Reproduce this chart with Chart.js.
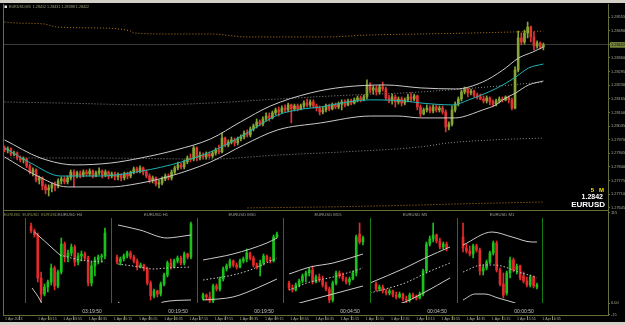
<!DOCTYPE html>
<html>
<head>
<meta charset="utf-8">
<script src="https://cdn.jsdelivr.net/npm/chart.js@4.4.1/dist/chart.umd.min.js"></script>
<style>
  html, body { margin: 0; padding: 0; background: #d4d0c8; }
  #win { position: relative; width: 625px; height: 325px; overflow: hidden; }
  #bg { position: absolute; left: 0; top: 3px; width: 625px; height: 319px; background: #000; }
  canvas { position: absolute; }
  #main { left: 0; top: 0; }
  .mini { top: 208px; }
</style>
</head>
<body>
<div id="win">
  <div id="bg"></div>
  <canvas id="main" width="625" height="325"></canvas>
  <canvas id="h4" class="mini" width="86" height="108" style="left:25px"></canvas>
  <canvas id="h1" class="mini" width="86" height="108" style="left:111px"></canvas>
  <canvas id="m30" class="mini" width="86" height="108" style="left:197px"></canvas>
  <canvas id="m15" class="mini" width="86" height="108" style="left:283px"></canvas>
  <canvas id="m5" class="mini" width="86" height="108" style="left:370px"></canvas>
  <canvas id="m1" class="mini" width="86" height="108" style="left:457px"></canvas>
</div>
<script>
// ---- main EURUSD M5 chart: [open, high, low, close] per bar
const mainBars = [
  [1.27931,1.27940,1.27912,1.27921],[1.27921,1.27936,1.27907,1.27926],[1.27926,1.27931,1.27893,1.27902],[1.27902,1.27916,1.27893,1.27907],
  [1.27907,1.27912,1.27874,1.27883],[1.27883,1.27893,1.27864,1.27874],[1.27874,1.27888,1.27859,1.27878],[1.27878,1.27883,1.27836,1.27845],
  [1.27845,1.27855,1.27807,1.27816],[1.27816,1.27836,1.27797,1.27826],[1.27826,1.27831,1.27769,1.27778],[1.27778,1.27797,1.27759,1.27788],
  [1.27788,1.27793,1.27731,1.27750],[1.27750,1.27759,1.27712,1.27731],[1.27731,1.27755,1.27702,1.27740],[1.27740,1.27764,1.27721,1.27755],
  [1.27755,1.27769,1.27726,1.27750],[1.27750,1.27783,1.27740,1.27774],[1.27774,1.27793,1.27759,1.27783],[1.27783,1.27793,1.27759,1.27769],
  [1.27769,1.27797,1.27759,1.27788],[1.27788,1.27826,1.27778,1.27816],[1.27816,1.27826,1.27745,1.27797],[1.27797,1.27821,1.27788,1.27812],
  [1.27812,1.27821,1.27788,1.27802],[1.27802,1.27826,1.27793,1.27816],[1.27816,1.27826,1.27797,1.27807],[1.27807,1.27831,1.27797,1.27821],
  [1.27821,1.27826,1.27788,1.27797],[1.27797,1.27821,1.27793,1.27812],[1.27812,1.27836,1.27802,1.27821],[1.27821,1.27826,1.27788,1.27802],
  [1.27802,1.27826,1.27793,1.27816],[1.27816,1.27821,1.27783,1.27797],[1.27797,1.27816,1.27788,1.27807],[1.27807,1.27816,1.27778,1.27793],
  [1.27793,1.27812,1.27778,1.27802],[1.27802,1.27807,1.27774,1.27788],[1.27788,1.27816,1.27778,1.27807],[1.27807,1.27816,1.27783,1.27797],
  [1.27797,1.27821,1.27788,1.27816],[1.27816,1.27840,1.27807,1.27831],[1.27831,1.27840,1.27812,1.27821],[1.27821,1.27845,1.27812,1.27836],
  [1.27836,1.27840,1.27802,1.27816],[1.27816,1.27826,1.27788,1.27797],[1.27797,1.27807,1.27764,1.27778],[1.27778,1.27797,1.27764,1.27788],
  [1.27788,1.27793,1.27750,1.27759],[1.27759,1.27778,1.27740,1.27764],[1.27764,1.27793,1.27755,1.27783],[1.27783,1.27807,1.27774,1.27797],
  [1.27797,1.27807,1.27778,1.27788],[1.27788,1.27826,1.27778,1.27816],[1.27816,1.27845,1.27807,1.27836],[1.27836,1.27864,1.27826,1.27850],
  [1.27850,1.27859,1.27831,1.27840],[1.27840,1.27874,1.27831,1.27864],[1.27864,1.27893,1.27855,1.27883],[1.27883,1.27902,1.27864,1.27878],
  [1.27878,1.27940,1.27869,1.27931],[1.27931,1.27936,1.27869,1.27883],[1.27883,1.27912,1.27874,1.27897],[1.27897,1.27907,1.27878,1.27888],
  [1.27888,1.27912,1.27878,1.27902],[1.27902,1.27912,1.27883,1.27893],[1.27893,1.27916,1.27883,1.27907],[1.27907,1.27931,1.27897,1.27921],
  [1.27921,1.27945,1.27902,1.27912],[1.27912,1.28002,1.27907,1.27978],[1.27978,1.27983,1.27936,1.27945],[1.27945,1.27969,1.27936,1.27959],
  [1.27959,1.27983,1.27950,1.27969],[1.27969,1.27978,1.27940,1.27955],[1.27955,1.27983,1.27945,1.27974],[1.27974,1.27993,1.27964,1.27983],
  [1.27983,1.28012,1.27974,1.28002],[1.28002,1.28017,1.27983,1.27993],[1.27993,1.28031,1.27983,1.28021],[1.28021,1.28045,1.28012,1.28036],
  [1.28036,1.28069,1.28026,1.28055],[1.28055,1.28064,1.28036,1.28045],[1.28045,1.28079,1.28036,1.28069],[1.28069,1.28098,1.28059,1.28083],
  [1.28083,1.28098,1.28059,1.28074],[1.28074,1.28107,1.28069,1.28098],[1.28098,1.28121,1.28088,1.28112],[1.28112,1.28126,1.28083,1.28102],
  [1.28102,1.28131,1.28098,1.28121],[1.28121,1.28136,1.28102,1.28112],[1.28112,1.28145,1.28102,1.28136],[1.28136,1.28140,1.28050,1.28117],
  [1.28117,1.28140,1.28107,1.28131],[1.28131,1.28140,1.28107,1.28117],[1.28117,1.28140,1.28112,1.28131],[1.28131,1.28155,1.28121,1.28145],
  [1.28145,1.28164,1.28126,1.28136],[1.28136,1.28160,1.28126,1.28150],[1.28150,1.28160,1.28121,1.28131],[1.28131,1.28140,1.28107,1.28121],
  [1.28121,1.28131,1.28088,1.28102],[1.28102,1.28126,1.28093,1.28112],[1.28112,1.28140,1.28102,1.28131],[1.28131,1.28140,1.28107,1.28117],
  [1.28117,1.28145,1.28112,1.28136],[1.28136,1.28145,1.28117,1.28126],[1.28126,1.28150,1.28117,1.28140],[1.28140,1.28160,1.28112,1.28150],
  [1.28150,1.28160,1.28126,1.28136],[1.28136,1.28164,1.28131,1.28155],[1.28155,1.28164,1.28136,1.28145],[1.28145,1.28169,1.28140,1.28160],
  [1.28160,1.28179,1.28150,1.28169],[1.28169,1.28179,1.28150,1.28160],[1.28160,1.28183,1.28155,1.28174],[1.28174,1.28255,1.28164,1.28231],
  [1.28231,1.28241,1.28193,1.28207],[1.28207,1.28226,1.28188,1.28217],[1.28217,1.28226,1.28183,1.28198],[1.28198,1.28231,1.28188,1.28221],
  [1.28221,1.28245,1.28202,1.28212],[1.28212,1.28221,1.28160,1.28169],[1.28169,1.28183,1.28145,1.28155],[1.28155,1.28188,1.28140,1.28174],
  [1.28174,1.28183,1.28126,1.28150],[1.28150,1.28174,1.28140,1.28164],[1.28164,1.28174,1.28131,1.28145],[1.28145,1.28169,1.28136,1.28160],
  [1.28160,1.28188,1.28150,1.28174],[1.28174,1.28193,1.28150,1.28164],[1.28164,1.28188,1.28155,1.28179],[1.28179,1.28183,1.28112,1.28126],
  [1.28126,1.28136,1.28079,1.28093],[1.28093,1.28121,1.28088,1.28112],[1.28112,1.28136,1.28102,1.28121],[1.28121,1.28131,1.28098,1.28107],
  [1.28107,1.28136,1.28098,1.28126],[1.28126,1.28136,1.28102,1.28112],[1.28112,1.28131,1.28102,1.28121],[1.28121,1.28131,1.28093,1.28102],
  [1.28102,1.28112,1.28007,1.28031],[1.28031,1.28055,1.28017,1.28045],[1.28045,1.28131,1.28036,1.28112],[1.28112,1.28150,1.28102,1.28140],
  [1.28140,1.28174,1.28131,1.28164],[1.28164,1.28207,1.28155,1.28198],[1.28198,1.28221,1.28188,1.28212],[1.28212,1.28217,1.28174,1.28193],
  [1.28193,1.28212,1.28183,1.28202],[1.28202,1.28207,1.28174,1.28183],[1.28183,1.28193,1.28164,1.28174],[1.28174,1.28188,1.28160,1.28164],
  [1.28164,1.28179,1.28145,1.28155],[1.28155,1.28179,1.28145,1.28169],[1.28169,1.28174,1.28136,1.28150],[1.28150,1.28160,1.28126,1.28140],
  [1.28140,1.28164,1.28131,1.28155],[1.28155,1.28174,1.28145,1.28164],[1.28164,1.28174,1.28150,1.28160],[1.28160,1.28179,1.28155,1.28174],
  [1.28174,1.28179,1.28145,1.28160],[1.28160,1.28169,1.28112,1.28121],[1.28121,1.28317,1.28117,1.28302],[1.28302,1.28488,1.28293,1.28455],
  [1.28455,1.28479,1.28422,1.28436],[1.28436,1.28493,1.28426,1.28479],[1.28479,1.28531,1.28455,1.28507],[1.28507,1.28512,1.28436,1.28460],
  [1.28460,1.28484,1.28398,1.28417],[1.28417,1.28441,1.28407,1.28431],[1.28431,1.28436,1.28403,1.28412],[1.28412,1.28431,1.28398,1.28422]
];
// bands and helper lines: [bar index, price]
const bandUpper = [[0,1.27969],[11.4,1.27883],[22.5,1.27850],[33.7,1.27859],[43.2,1.27883],[54.3,1.27921],[65.4,1.27974],[74.9,1.28055],[84.4,1.28131],[97.1,1.28193],[107.6,1.28221],[121,1.28231],[132.1,1.28217],[143.2,1.28212],[151.7,1.28245],[158.1,1.28302],[163.2,1.28360],[167.6,1.28388],[171,1.28412]];
const bandMiddle = [[0,1.27931],[8.3,1.27859],[17.8,1.27797],[30.5,1.27797],[40,1.27812],[52.7,1.27850],[65.4,1.27912],[75.9,1.27993],[86.7,1.28088],[94.9,1.28117],[100.3,1.28126],[108.9,1.28150],[116.2,1.28160],[126.7,1.28155],[132.1,1.28145],[142.2,1.28136],[147.3,1.28160],[153.7,1.28198],[158.1,1.28231],[162.2,1.28269],[166.3,1.28312],[171,1.28331]];
const bandLower = [[0,1.27888],[9.8,1.27802],[20,1.27745],[33.7,1.27745],[40,1.27755],[51.7,1.27793],[65.4,1.27864],[75.9,1.27945],[86.7,1.28017],[100.3,1.28050],[116.2,1.28083],[124.8,1.28083],[132.1,1.28074],[143.2,1.28074],[145.4,1.28079],[151.7,1.28112],[155.9,1.28136],[158.1,1.28160],[162.2,1.28193],[166.3,1.28231],[171,1.28250]];
const dotLineA = [[0,1.27883],[24.1,1.27883],[65.4,1.27878],[86.7,1.27897],[107.6,1.27912],[132.1,1.27936],[141,1.27955],[154.9,1.27969],[171,1.27978]];
const dotLineB = [[0,1.28150],[17.8,1.28145],[46.3,1.28136],[65.4,1.28145],[86.7,1.28164],[109.8,1.28183],[126.7,1.28193],[149.5,1.28217],[171,1.28245]];
const orangeTop = [[0,1.28531],[4.1,1.28526],[12.4,1.28522],[16.8,1.28507],[28.3,1.28503],[40,1.28488],[41,1.28479],[52.7,1.28474],[65.4,1.28474],[77.1,1.28460],[102.5,1.28460],[115.2,1.28469],[132.1,1.28474],[149.5,1.28479],[171,1.28488]];
const orangeBottom = [[77.1,1.27645],[103.5,1.27650],[132.1,1.27659],[144.1,1.27664],[171,1.27673]];

const currentPrice = 1.28422;
const priceTicks = [1.28555,1.28490,1.28422,1.28360,1.28295,1.28230,1.28165,1.28100,1.28035,1.27970,1.27905,1.27840,1.27775,1.27710,1.27645];
const subTicks = [115, 0, -15];
const timeTickIdx = [-0.5,10,18,26,34,42,50,58,66,74,82,90,98,106,114,122,130,138,146,154,162,170];
const timeTickLabels = ['1 Apr 2013','1 Apr 03:15','1 Apr 03:55','1 Apr 04:35','1 Apr 05:15','1 Apr 05:55','1 Apr 06:35',
  '1 Apr 07:15','1 Apr 07:55','1 Apr 08:35','1 Apr 09:15','1 Apr 09:55','1 Apr 10:35','1 Apr 11:15','1 Apr 11:55',
  '1 Apr 12:35','1 Apr 13:15','1 Apr 13:55','1 Apr 14:35','1 Apr 15:15','1 Apr 15:55','1 Apr 16:35'];

// ---- sub-window panels (multi timeframe)
const h4Bars = [[1.2777,1.2780,1.2770,1.2772],[1.2772,1.2774,1.2766,1.2768],[1.2768,1.2770,1.2721,1.2725],[1.2725,1.2731,1.2701,1.2709],
  [1.2709,1.2719,1.2707,1.2716],[1.2716,1.2723,1.2711,1.2721],[1.2721,1.2739,1.2718,1.2735],[1.2735,1.2737,1.2713,1.2717],
  [1.2717,1.2733,1.2715,1.2731],[1.2731,1.2765,1.2729,1.2759],[1.2759,1.2761,1.2741,1.2746],[1.2746,1.2753,1.2741,1.2750],
  [1.2750,1.2759,1.2747,1.2756],[1.2756,1.2758,1.2737,1.2741],[1.2741,1.2750,1.2738,1.2747],[1.2747,1.2752,1.2742,1.2749],
  [1.2749,1.2751,1.2743,1.2745],[1.2745,1.2747,1.2717,1.2720],[1.2720,1.2741,1.2717,1.2737],[1.2737,1.2746,1.2727,1.2743],
  [1.2743,1.2748,1.2739,1.2746],[1.2746,1.2749,1.2741,1.2747],[1.2747,1.2775,1.2744,1.2770]];
const h4Upper = [[1,1.2771],[4,1.2762],[8.6,1.2748]];
const h4Middle = [[8.6,1.2748],[14.6,1.2743],[22,1.2741]];
const h4Lower = [[0.3,1.2715],[2.7,1.2703],[3.5,1.2697]];

const h1Bars = [[1.2796,1.2798,1.2789,1.2791],[1.2791,1.2796,1.2788,1.2794],[1.2794,1.2799,1.2792,1.2797],[1.2797,1.2802,1.2795,1.2800],
  [1.2800,1.2802,1.2794,1.2796],[1.2796,1.2798,1.2790,1.2792],[1.2792,1.2794,1.2783,1.2786],[1.2786,1.2790,1.2785,1.2788],
  [1.2788,1.2789,1.2782,1.2784],[1.2784,1.2786,1.2768,1.2770],[1.2770,1.2772,1.2753,1.2757],[1.2757,1.2764,1.2755,1.2762],
  [1.2762,1.2763,1.2756,1.2759],[1.2759,1.2771,1.2757,1.2769],[1.2769,1.2780,1.2767,1.2778],[1.2778,1.2792,1.2776,1.2790],
  [1.2790,1.2794,1.2784,1.2786],[1.2786,1.2794,1.2785,1.2792],[1.2792,1.2797,1.2790,1.2795],[1.2795,1.2797,1.2788,1.2790],
  [1.2790,1.2801,1.2788,1.2799],[1.2799,1.2800,1.2794,1.2796],[1.2796,1.2831,1.2794,1.2829]];
const h1Upper = [[0.3,1.2828],[6.8,1.2823],[14.9,1.2815],[17.9,1.2816],[22,1.2818]];
const h1Middle = [[0.3,1.2789],[6.8,1.2786],[10.7,1.2784],[14.9,1.2785],[22,1.2786]];
const h1Lower = [[0.3,1.2751],[1.5,1.2748],[7,1.2744],[12.5,1.2748],[13.7,1.2751],[22,1.2753]];

const m30Bars = [[1.2784,1.2790,1.2783,1.2788],[1.2788,1.2789,1.2783,1.2786],[1.2786,1.2791,1.2780,1.2782],[1.2782,1.2799,1.2780,1.2797],
  [1.2797,1.2799,1.2792,1.2794],[1.2794,1.2806,1.2792,1.2804],[1.2804,1.2816,1.2802,1.2814],[1.2814,1.2819,1.2812,1.2817],
  [1.2817,1.2824,1.2815,1.2822],[1.2822,1.2823,1.2816,1.2818],[1.2818,1.2820,1.2814,1.2816],[1.2816,1.2824,1.2815,1.2822],
  [1.2822,1.2826,1.2820,1.2824],[1.2824,1.2834,1.2821,1.2830],[1.2830,1.2831,1.2823,1.2825],[1.2825,1.2827,1.2816,1.2818],
  [1.2818,1.2820,1.2814,1.2816],[1.2816,1.2823,1.2807,1.2820],[1.2820,1.2829,1.2818,1.2827],[1.2827,1.2828,1.2821,1.2823],
  [1.2823,1.2826,1.2820,1.2822],[1.2822,1.2848,1.2821,1.2846],[1.2846,1.2851,1.2845,1.2849]];
const m30Upper = [[0,1.2823],[8.9,1.2829],[19,1.2840],[22,1.2845]];
const m30Middle = [[0,1.2803],[8.9,1.2808],[14,1.2813],[22,1.2825]];
const m30Lower = [[0,1.2783],[8.9,1.2786],[16.1,1.2795],[22,1.2804]];

const m15Bars = [[1.2810,1.2812,1.2803,1.2805],[1.2805,1.2808,1.2801,1.2803],[1.2803,1.2810,1.2802,1.2808],[1.2808,1.2814,1.2806,1.2812],
  [1.2812,1.2819,1.2810,1.2817],[1.2817,1.2822,1.2811,1.2820],[1.2820,1.2825,1.2817,1.2823],[1.2823,1.2827,1.2809,1.2811],
  [1.2811,1.2818,1.2810,1.2816],[1.2816,1.2819,1.2811,1.2813],[1.2813,1.2817,1.2806,1.2808],[1.2808,1.2811,1.2802,1.2804],
  [1.2804,1.2806,1.2790,1.2793],[1.2793,1.2812,1.2791,1.2810],[1.2810,1.2822,1.2808,1.2820],[1.2820,1.2822,1.2815,1.2817],
  [1.2817,1.2820,1.2812,1.2814],[1.2814,1.2816,1.2809,1.2811],[1.2811,1.2816,1.2808,1.2814],[1.2814,1.2822,1.2813,1.2820],
  [1.2820,1.2858,1.2817,1.2856],[1.2859,1.2870,1.2849,1.2851],[1.2851,1.2857,1.2848,1.2855]];
const m15Upper = [[0,1.2819],[6.3,1.2826],[13.1,1.2830],[18.2,1.2835],[22,1.2839]];
const m15Middle = [[0,1.2803],[6.3,1.2811],[13.1,1.2816],[20.2,1.2823],[22,1.2825]];
const m15Lower = [[0,1.2787],[4.2,1.2791],[13.1,1.2799],[22,1.2807]];

const m5Bars = [[1.2819,1.2821,1.2812,1.2814],[1.2814,1.2818,1.2812,1.2816],[1.2816,1.2818,1.2810,1.2812],[1.2812,1.2814,1.2808,1.2810],
  [1.2810,1.2814,1.2808,1.2812],[1.2812,1.2813,1.2806,1.2808],[1.2808,1.2811,1.2804,1.2806],[1.2806,1.2811,1.2805,1.2809],
  [1.2809,1.2810,1.2802,1.2804],[1.2804,1.2807,1.2800,1.2803],[1.2803,1.2810,1.2801,1.2808],[1.2808,1.2810,1.2804,1.2806],
  [1.2806,1.2808,1.2803,1.2805],[1.2805,1.2811,1.2804,1.2809],[1.2809,1.2834,1.2807,1.2832],[1.2832,1.2861,1.2830,1.2859],
  [1.2859,1.2867,1.2857,1.2864],[1.2864,1.2880,1.2861,1.2868],[1.2868,1.2869,1.2860,1.2862],[1.2862,1.2865,1.2854,1.2856],
  [1.2856,1.2861,1.2854,1.2859],[1.2859,1.2861,1.2852,1.2855]];
const m5Upper = [[-1.8,1.2820],[8.6,1.2835],[14.6,1.2845],[22,1.2856]];
const m5Middle = [[-1.8,1.2810],[8.6,1.2820],[15.5,1.2831],[22,1.2840]];
const m5Lower = [[-1.8,1.2791],[8.6,1.2801],[14.6,1.2811],[22,1.2825]];

const m1Bars = [[1.2876,1.2890,1.2861,1.2865],[1.2865,1.2869,1.2860,1.2862],[1.2862,1.2867,1.2857,1.2859],[1.2859,1.2869,1.2855,1.2867],
  [1.2867,1.2869,1.2861,1.2863],[1.2863,1.2865,1.2838,1.2842],[1.2842,1.2848,1.2838,1.2845],[1.2845,1.2853,1.2843,1.2851],
  [1.2851,1.2862,1.2849,1.2860],[1.2860,1.2872,1.2858,1.2870],[1.2870,1.2872,1.2841,1.2843],[1.2843,1.2845,1.2827,1.2829],
  [1.2829,1.2840,1.2815,1.2818],[1.2820,1.2842,1.2818,1.2840],[1.2840,1.2856,1.2835,1.2853],[1.2853,1.2855,1.2841,1.2843],
  [1.2843,1.2849,1.2839,1.2847],[1.2847,1.2848,1.2833,1.2835],[1.2837,1.2841,1.2830,1.2832],[1.2832,1.2836,1.2826,1.2828],
  [1.2828,1.2838,1.2826,1.2836],[1.2836,1.2837,1.2825,1.2827],[1.2826,1.2830,1.2824,1.2828]];
const m1Upper = [[0,1.2868],[8.6,1.2881],[14.6,1.2876],[20.5,1.2871],[22,1.2871]];
const m1Middle = [[0,1.2841],[5.7,1.2848],[9.5,1.2848],[12.5,1.2846],[16.4,1.2841],[21.4,1.2836],[22,1.2835]];
const m1Lower = [[0,1.2813],[3.6,1.2819],[6.5,1.2819],[10.4,1.2815],[14.6,1.2811],[18,1.2807]];

// ---- styles
const FONT = "'Liberation Sans', Arial, sans-serif";
const AXIS_LINE = '#66703a';
const AXIS_TEXT = '#a9ad94';
const MAIN_BULL = '#85a634', MAIN_BEAR = '#df3434';
const MINI_BULL = '#1cc21c', MINI_BEAR = '#e42a2a';
const BAND = '#c9c9c9', CYAN = '#1eb3b3', DOT_GRAY = '#8c8c8c', ORANGE = '#b87d1c', SEP_GREEN = '#137d13';

Chart.defaults.font.family = FONT;
Chart.defaults.animation = false;
Chart.defaults.responsive = false;
Chart.defaults.events = [];
Chart.defaults.plugins.legend.display = false;
Chart.defaults.plugins.tooltip.enabled = false;

function candleSets(bars, bull, bear) {
  const col = bars.map(b => b[3] >= b[0] ? bull : bear);
  return [
    { type: 'bar', data: bars.map((b, i) => ({ x: i, y: [b[0], b[3]] })), backgroundColor: col,
      barThickness: 2, minBarLength: 1, grouped: false, order: 2 },
    { type: 'bar', data: bars.map((b, i) => ({ x: i, y: [b[2], b[1]] })), backgroundColor: col,
      barThickness: 1, grouped: false, order: 3 }
  ];
}

function line(points, color, dash, order) {
  return { type: 'line', data: points.map(p => ({ x: p[0], y: p[1] })), borderColor: color, borderWidth: 1,
    borderDash: dash || [], pointRadius: 0, tension: 0.4, cubicInterpolationMode: 'monotone',
    fill: false, order: order || 0 };
}

const sameVal = (a, b) => Math.abs(a - b) < 1e-7;

const mtFrame = {
  id: 'mtFrame',
  afterDraw(chart) {
    const { ctx, chartArea: a, scales } = chart;
    const yb = Math.round(scales.y.bottom);
    ctx.save();
    ctx.strokeStyle = AXIS_LINE;
    ctx.lineWidth = 1;
    ctx.beginPath();
    ctx.moveTo(a.left + 0.5, a.top); ctx.lineTo(a.left + 0.5, a.bottom);
    ctx.moveTo(a.left, yb + 0.5); ctx.lineTo(a.right, yb + 0.5);
    ctx.stroke();

    ctx.fillStyle = '#e6e6e6';
    ctx.fillRect(a.left + 1.5, a.top + 1.5, 2.5, 2.5);
    ctx.font = '3.7px ' + FONT;
    ctx.fillStyle = '#9aa07a';
    ctx.textAlign = 'left';
    ctx.textBaseline = 'middle';
    ctx.fillText('EURUSD,M5  1.28412 1.28431 1.28398 1.28422', a.left + 6, a.top + 3);

    ctx.textBaseline = 'alphabetic';
    ctx.textAlign = 'right';
    ctx.font = 'bold 6px ' + FONT;
    ctx.fillStyle = '#f2e600';
    ctx.fillText('5   M', a.right - 4, yb - 18);
    ctx.font = 'bold 7px ' + FONT;
    ctx.fillStyle = '#ffffff';
    ctx.fillText('1.2842', a.right - 5, yb - 11);
    ctx.font = 'bold 8px ' + FONT;
    ctx.fillText('EURUSD', a.right - 3, yb - 3);

    ctx.textAlign = 'left';
    ctx.font = '3.9px ' + FONT;
    ctx.fillStyle = '#8a8f4a';
    ctx.fillText('EURUSD  EURUSD  EURUSD', a.left + 1, yb + 5.5);
    ctx.restore();
  }
};

new Chart(document.getElementById('main'), {
  type: 'bar',
  data: {
    datasets: [
      line(bandUpper, BAND, null, 0),
      line(bandMiddle, CYAN, null, 0),
      line(bandLower, BAND, null, 0),
      line(orangeTop, ORANGE, [1, 2], 4),
      line(orangeBottom, ORANGE, [1, 2], 4),
      line(dotLineA, DOT_GRAY, [1, 2], 4),
      line(dotLineB, DOT_GRAY, [1, 2], 4),
      ...candleSets(mainBars, MAIN_BULL, MAIN_BEAR)
    ]
  },
  options: {
    layout: { padding: { left: 3, top: 4, right: 0, bottom: 0 } },
    scales: {
      x: {
        type: 'linear', min: -0.5, max: 191.5, offset: false,
        afterFit: s => { s.height = 10; },
        afterBuildTicks: s => { s.ticks = timeTickIdx.map(v => ({ value: v })); },
        ticks: { autoSkip: false, maxRotation: 0, align: 'start', labelOffset: 2, padding: -3,
          color: AXIS_TEXT, font: { size: 3.6 }, callback: (v, i) => timeTickLabels[i] },
        grid: { drawOnChartArea: false, drawTicks: true, tickLength: 5, tickColor: AXIS_LINE },
        border: { color: AXIS_LINE }
      },
      y: {
        type: 'linear', position: 'right', stack: 'win', stackWeight: 206,
        min: 1.27635, max: 1.28617,
        afterFit: s => { s.width = 17; },
        afterBuildTicks: s => { s.ticks = priceTicks.map(v => ({ value: v })); },
        ticks: {
          autoSkip: false, padding: 1, font: { size: 3.9 },
          callback: v => v.toFixed(5),
          color: c => sameVal(c.tick.value, currentPrice) ? '#101010' : AXIS_TEXT,
          showLabelBackdrop: c => sameVal(c.tick.value, currentPrice),
          backdropColor: '#76843a',
          backdropPadding: { top: 0.5, bottom: 0.5, left: 1, right: 2 }
        },
        grid: {
          drawTicks: true, tickLength: 2, tickColor: AXIS_LINE,
          color: c => (c.tick && sameVal(c.tick.value, currentPrice)) ? '#3a3a3a' : 'rgba(0,0,0,0)'
        },
        border: { color: AXIS_LINE }
      },
      ySub: {
        type: 'linear', position: 'right', stack: 'win', stackWeight: 105,
        min: -15.3, max: 118.8,
        afterFit: s => { s.width = 17; },
        afterBuildTicks: s => { s.ticks = subTicks.map(v => ({ value: v })); },
        ticks: { autoSkip: false, padding: 1, font: { size: 3.9 }, color: AXIS_TEXT, callback: v => v === 0 ? '0.00' : String(v) },
        grid: { drawOnChartArea: false, drawTicks: true, tickLength: 2, tickColor: AXIS_LINE },
        border: { color: AXIS_LINE }
      }
    }
  },
  plugins: [mtFrame]
});

const panelDeco = {
  id: 'panelDeco',
  afterDraw(chart, args, o) {
    const { ctx, chartArea: a } = chart;
    ctx.save();
    ctx.strokeStyle = SEP_GREEN;
    ctx.lineWidth = 1;
    ctx.beginPath();
    ctx.moveTo(a.left + 0.5, a.top); ctx.lineTo(a.left + 0.5, a.bottom);
    if (o.closeRight) { ctx.moveTo(a.right - 0.5, a.top); ctx.lineTo(a.right - 0.5, a.bottom); }
    ctx.stroke();
    ctx.textAlign = 'center';
    ctx.textBaseline = 'alphabetic';
    ctx.font = '4.2px ' + FONT;
    ctx.fillStyle = '#9c9c9c';
    ctx.fillText(o.title, a.left + 45, a.top - 2);
    ctx.font = '5px ' + FONT;
    ctx.fillStyle = '#c4c4c4';
    ctx.fillText(o.timer, a.left + 67, a.bottom + 10);
    ctx.restore();
  }
};

const panels = [
  { id: 'h4', bars: h4Bars, upper: h4Upper, middle: h4Middle, lower: h4Lower, base: 1.2700, title: 'EURUSD H4', timer: '03:19:50' },
  { id: 'h1', bars: h1Bars, upper: h1Upper, middle: h1Middle, lower: h1Lower, base: 1.2750, title: 'EURUSD H1', timer: '00:19:50' },
  { id: 'm30', bars: m30Bars, upper: m30Upper, middle: m30Middle, lower: m30Lower, base: 1.2780, title: 'EURUSD M30', timer: '00:19:50' },
  { id: 'm15', bars: m15Bars, upper: m15Upper, middle: m15Middle, lower: m15Lower, base: 1.2790, title: 'EURUSD M15', timer: '00:04:50' },
  { id: 'm5', bars: m5Bars, upper: m5Upper, middle: m5Middle, lower: m5Lower, base: 1.2800, title: 'EURUSD M5', timer: '00:04:50' },
  { id: 'm1', bars: m1Bars, upper: m1Upper, middle: m1Middle, lower: m1Lower, base: 1.2810, title: 'EURUSD M1', timer: '00:00:50', closeRight: true }
];

panels.forEach(p => {
  new Chart(document.getElementById(p.id), {
    type: 'bar',
    data: {
      datasets: [
        line(p.upper, BAND, null, 0),
        line(p.middle, BAND, [1.5, 2], 0),
        line(p.lower, BAND, null, 0),
        ...candleSets(p.bars, MINI_BULL, MINI_BEAR)
      ]
    },
    options: {
      layout: { padding: { top: 10, bottom: 13, left: 0, right: 0 } },
      scales: {
        x: { type: 'linear', display: false, min: -1.8, max: 23.8, offset: false },
        y: { type: 'linear', display: false, min: p.base, max: p.base + 0.0085 }
      },
      plugins: { panelDeco: { title: p.title, timer: p.timer, closeRight: !!p.closeRight } }
    },
    plugins: [panelDeco]
  });
});
</script>
</body>
</html>
